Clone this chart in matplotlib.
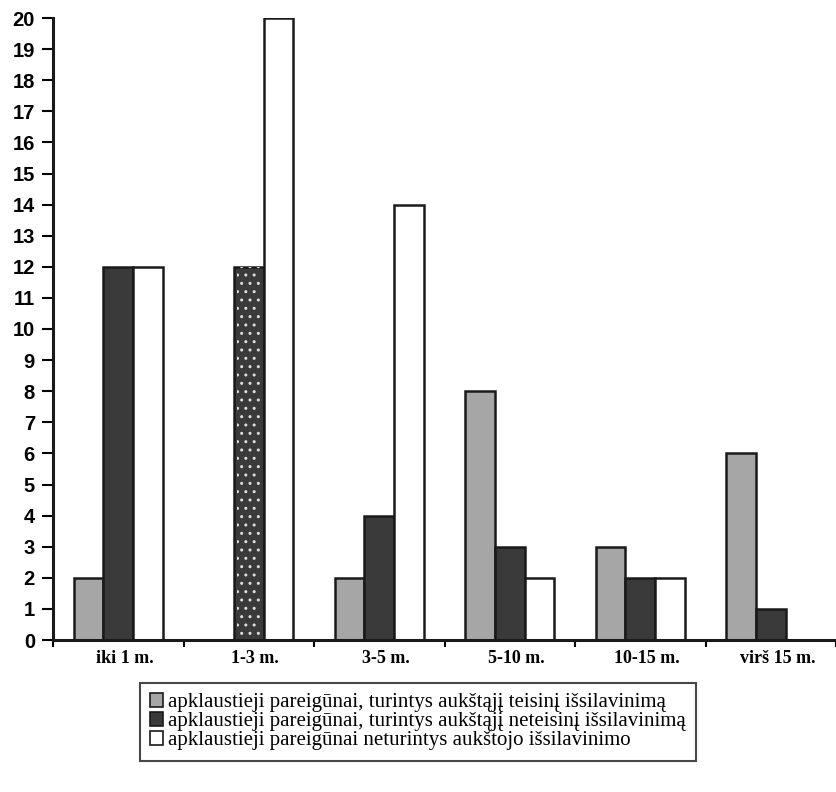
import matplotlib
matplotlib.use("Agg")
import matplotlib.pyplot as plt
import numpy as np
from matplotlib.patches import Patch

categories = ["iki 1 m.", "1-3 m.", "3-5 m.", "5-10 m.", "10-15 m.", "virš 15 m."]
teisinis = [2, 0, 2, 8, 3, 6]
neteisinis = [12, 12, 4, 3, 2, 1]
neturintys = [12, 20, 14, 2, 2, 0]
series_labels = [
    "apklaustieji pareigūnai, turintys aukštąjį teisinį išsilavinimą",
    "apklaustieji pareigūnai, turintys aukštąjį neteisinį išsilavinimą",
    "apklaustieji pareigūnai neturintys aukštojo išsilavinimo",
]
yticks = list(range(0, 21))

fig = plt.figure(figsize=(8.36, 7.92), dpi=100)
ax = fig.add_axes([53 / 836, 1 - 640 / 792, 1 - 53 / 836, (640 - 18) / 792])

x = np.arange(len(categories)) + 0.5
w = 0.228
colors = ["#a6a6a6", "#3a3a3a", "#ffffff"]
data = [teisinis, neteisinis, neturintys]
for i, (vals, c) in enumerate(zip(data, colors)):
    ax.bar(x + (i - 1) * w, vals, width=w, color=c, edgecolor="#1a1a1a",
           linewidth=1.8, label=series_labels[i], zorder=2)

# stippled texture on the dark bar of the second group
ax.bar(x[1], neteisinis[1], width=w * 0.8, color="none", edgecolor="#dddddd",
       linewidth=0, hatch="..", zorder=3)

ax.set_xlim(0, 6)
ax.set_ylim(0, 20)
ax.set_yticks(yticks)
ax.set_yticklabels([str(t) for t in yticks], fontfamily="Liberation Sans",
                   fontweight="bold", fontsize=14.5)
ax.set_xticks(np.arange(0, 7), minor=False)
ax.set_xticklabels([])
ax.set_xticks(x + 0.05, minor=True)
ax.set_xticklabels(categories, minor=True, fontfamily="Liberation Serif",
                   fontweight="bold", fontsize=13)
ax.tick_params(axis="x", which="minor", length=0, pad=7)
ax.tick_params(axis="x", which="major", length=5, width=1.5, direction="out")
ax.tick_params(axis="y", length=8, width=1.5, direction="out", pad=5)

for s in ["top", "right"]:
    ax.spines[s].set_visible(False)
for s in ["left", "bottom"]:
    ax.spines[s].set_linewidth(2.2)
    ax.spines[s].set_color("#1a1a1a")

handles = [Patch(facecolor=c, edgecolor="#1a1a1a", linewidth=1.2) for c in colors]
leg = fig.legend(handles, series_labels, loc="upper left",
                 bbox_to_anchor=(140 / 836, 1 - 683 / 792),
                 prop={"family": "Liberation Serif", "size": 15},
                 frameon=True, fancybox=False, handlelength=0.6,
                 handleheight=0.6, handletextpad=0.25, labelspacing=0.0,
                 borderpad=0.5, borderaxespad=0)
leg.get_frame().set_edgecolor("#1a1a1a")
leg.get_frame().set_linewidth(1.5)

fig.savefig("out.png", dpi=100, facecolor="white")
